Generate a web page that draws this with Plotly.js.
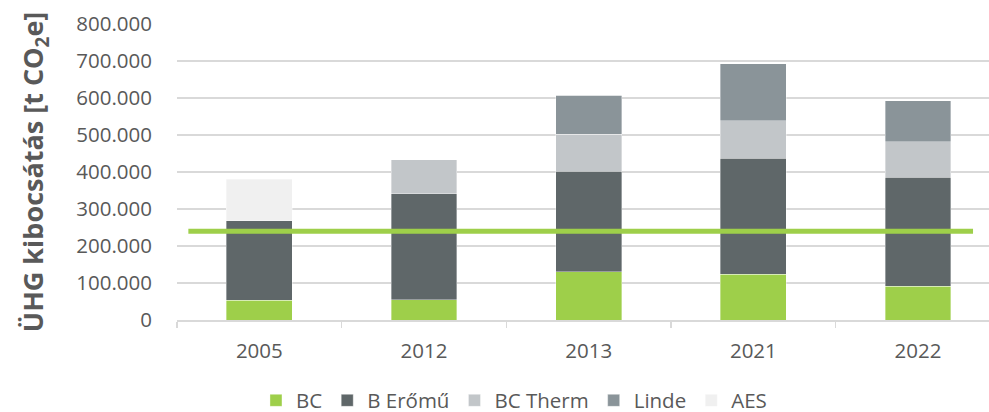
<!DOCTYPE html>
<html>
<head>
<meta charset="utf-8">
<script src="https://cdn.plot.ly/plotly-3.0.1.min.js"></script>
<style>html,body{margin:0;padding:0;background:#fff;}#chart{width:989px;height:412px;}</style>
</head>
<body>
<div id="chart"></div>
<script>
const years = ['2005', '2012', '2013', '2021', '2022'];
const seriesNames = ['BC', 'B Erőmű', 'BC Therm', 'Linde', 'AES'];
const bc      = [53000, 55000, 130000, 123000, 91000];
const bEromu  = [217000, 286000, 272000, 314000, 295000];
const bcTherm = [0, 92000, 100000, 101000, 96000];
const linde   = [0, 0, 106000, 154000, 111000];
const aes     = [111000, 0, 0, 0, 0];
const targetLevel = 240000;
const yTickVals = [0, 100000, 200000, 300000, 400000, 500000, 600000, 700000, 800000];
const yTickText = ['0', '100.000', '200.000', '300.000', '400.000', '500.000', '600.000', '700.000', '800.000'];

const colors = ['#9ecf4a', '#5f6769', '#c2c6c9', '#8a9499', '#f0f0f0'];
const values = [bc, bEromu, bcTherm, linde, aes];

const traces = values.map((v, i) => ({
  type: 'bar',
  name: seriesNames[i],
  x: years,
  y: v,
  marker: { color: colors[i], line: { color: 'rgba(255,255,255,0.6)', width: 0.6 } },
  hoverinfo: 'skip'
}));

const fam = '"Open Sans", sans-serif';
const txt = '#595959';

const layout = {
  width: 989, height: 412,
  margin: { l: 177, r: 0, t: 24, b: 92, autoexpand: false },
  paper_bgcolor: '#ffffff', plot_bgcolor: '#ffffff',
  barmode: 'stack',
  bargap: 0.6,
  showlegend: true,
  font: { family: fam, color: txt, size: 20.5 },
  xaxis: {
    type: 'category',
    range: [-0.5, 4.431],
    showgrid: false,
    showline: true, linecolor: '#d9d9d9', linewidth: 1.5,
    ticks: 'outside', tickson: 'boundaries', ticklen: 6, tickcolor: '#d9d9d9', tickwidth: 1.5,
    ticklabelstandoff: 12, tickangle: 0,
    tickfont: { size: 20.5, color: txt, family: fam },
    zeroline: false
  },
  yaxis: {
    range: [0, 800000],
    tickvals: yTickVals,
    ticktext: yTickText,
    showgrid: true, gridcolor: '#d9d9d9', gridwidth: 1.5,
    zeroline: false, showline: false,
    ticks: '', ticklabelstandoff: 24,
    tickfont: { size: 20.5, color: txt, family: fam },
    title: { text: 'ÜHG kibocsátás [t CO<sub>2</sub>e]', font: { size: 27, color: txt, family: fam, weight: 'bold' }, standoff: 24 }
  },
  legend: {
    orientation: 'h', x: 0.415, xref: 'paper', xanchor: 'center',
    y: -0.272, yref: 'paper', yanchor: 'middle',
    traceorder: 'normal',
    font: { size: 20.5, color: txt, family: fam },
    itemclick: false
  },
  shapes: [{
    type: 'line', xref: 'x', yref: 'y',
    x0: -0.431, x1: 4.334, y0: targetLevel, y1: targetLevel,
    line: { color: '#9ecf4a', width: 5 }
  }]
};

Plotly.newPlot('chart', traces, layout, { staticPlot: true, displayModeBar: false });
</script>
</body>
</html>
